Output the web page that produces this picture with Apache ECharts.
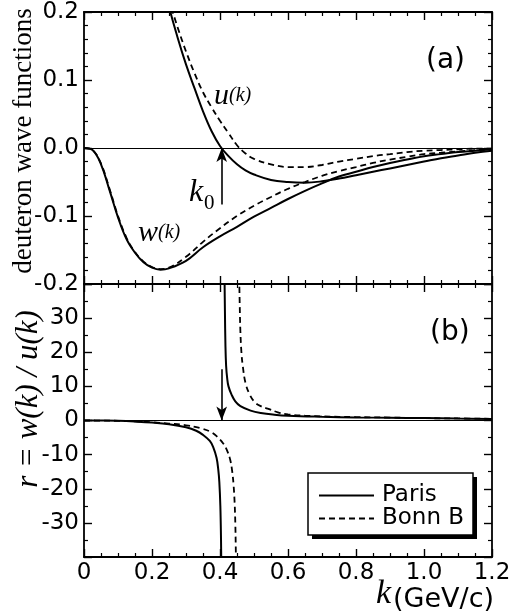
<!DOCTYPE html>
<html>
<head>
<meta charset="utf-8">
<script src="https://cdn.jsdelivr.net/npm/echarts@6/dist/echarts.min.js"></script>
<style>
html, body { margin: 0; padding: 0; background: #fff; }
#chart { width: 521px; height: 616px; }
</style>
</head>
<body>
<div id="chart"></div>
<script>
// momentum grids (GeV/c)
const kU = [0.2, 0.225, 0.25, 0.275, 0.3, 0.325, 0.35, 0.375, 0.4, 0.425, 0.45, 0.475, 0.5, 0.55, 0.6, 0.65, 0.7, 0.75, 0.8, 0.85, 0.9, 0.95, 1.0, 1.05, 1.1, 1.15, 1.2]
const kW = [0, 0.025, 0.05, 0.075, 0.1, 0.125, 0.15, 0.175, 0.2, 0.225, 0.25, 0.3, 0.35, 0.4, 0.45, 0.5, 0.55, 0.6, 0.65, 0.7, 0.75, 0.8, 0.85, 0.9, 0.95, 1.0, 1.05, 1.1, 1.15, 1.2]

// (a) S- and D-wave functions
const parisU = [0.34, 0.265, 0.208, 0.163, 0.123, 0.088, 0.054, 0.025, 0.003, -0.012, -0.024, -0.033, -0.039, -0.047, -0.050, -0.051, -0.049, -0.045, -0.040, -0.035, -0.030, -0.025, -0.020, -0.015, -0.011, -0.007, -0.004]
const bonnU = [0.32, 0.26, 0.218, 0.178, 0.142, 0.110, 0.082, 0.060, 0.040, 0.022, 0.004, -0.008, -0.016, -0.024, -0.028, -0.028, -0.025, -0.020, -0.016, -0.012, -0.009, -0.006, -0.004, -0.003, -0.002, -0.001, -0.001]
const parisW = [0, -0.003, -0.024, -0.062, -0.102, -0.134, -0.154, -0.168, -0.176, -0.179, -0.177, -0.166, -0.146, -0.130, -0.116, -0.101, -0.088, -0.075, -0.063, -0.052, -0.042, -0.035, -0.028, -0.022, -0.017, -0.012, -0.009, -0.006, -0.004, -0.002]
const bonnW = [0, -0.003, -0.023, -0.060, -0.100, -0.132, -0.153, -0.167, -0.175, -0.178, -0.176, -0.160, -0.138, -0.118, -0.100, -0.085, -0.072, -0.060, -0.050, -0.041, -0.034, -0.028, -0.022, -0.017, -0.013, -0.009, -0.007, -0.005, -0.003, -0.002]

// (b) ratio r = w/u, two branches around the node of u
const rParisNegK = [0, 0.05, 0.1, 0.15, 0.2, 0.25, 0.3, 0.33, 0.35, 0.37, 0.38, 0.39, 0.395, 0.398, 0.401, 0.403, 0.404]
const rParisNeg = [0, -0.02, -0.1, -0.3, -0.6, -1.1, -2.0, -3.0, -4.2, -6.0, -7.8, -11, -14.5, -18, -25, -35, -45]
const rParisPosK = [0.413, 0.4145, 0.416, 0.418, 0.421, 0.425, 0.434, 0.445, 0.46, 0.49, 0.52, 0.56, 0.6, 0.7, 0.8, 0.9, 1.0, 1.1, 1.2]
const rParisPos = [45, 32, 22, 16, 12.5, 10, 7.6, 5.6, 4.2, 2.9, 2.2, 1.7, 1.4, 1.1, 0.9, 0.8, 0.7, 0.55, 0.45]
const rBonnNegK = [0, 0.05, 0.1, 0.15, 0.2, 0.25, 0.3, 0.34, 0.37, 0.39, 0.41, 0.42, 0.43, 0.436, 0.44, 0.443, 0.445, 0.4465, 0.4475]
const rBonnNeg = [0, -0.02, -0.1, -0.25, -0.5, -0.9, -1.4, -2.2, -3.2, -4.6, -6.8, -8.6, -11.5, -15, -19, -24, -30, -38, -45]
const rBonnPosK = [0.456, 0.458, 0.46, 0.463, 0.467, 0.475, 0.488, 0.503, 0.52, 0.54, 0.57, 0.6, 0.65, 0.7, 0.8, 0.9, 1.0, 1.1, 1.2]
const rBonnPos = [45, 34, 26, 20, 16, 11, 7.5, 5.3, 4.2, 3.5, 2.4, 1.8, 1.4, 1.2, 1.0, 0.85, 0.7, 0.6, 0.5]

const k0 = 0.405

const zip = (xs, ys) => xs.map((x, i) => [x, ys[i]])

const SANS = 'DejaVu Sans'
const SERIF = 'Liberation Serif'
const solid = { color: '#000', width: 2, type: 'solid' }
const dashed = { color: '#000', width: 1.8, type: [6, 4] }

const chart = echarts.init(document.getElementById('chart'))

// 坐标轴公共样式
const minor = (n) => ({ show: true, splitNumber: n, length: 4, lineStyle: { color: '#000', width: 1.2 } })
const axisBase = (extra) => Object.assign({
  type: 'value',
  axisLine: { show: true, onZero: false, lineStyle: { color: '#000', width: 1.8 } },
  axisTick: { show: true, inside: true, length: 8, lineStyle: { color: '#000', width: 1.4 } },
  splitLine: { show: false },
  minorSplitLine: { show: false },
  axisLabel: { show: false }
}, extra)

const xLabel = { show: true, color: '#000', fontFamily: SANS, fontSize: 23, margin: 5,
  formatter: v => v === 0 ? '0' : v.toFixed(1) }

const xAxes = [
  axisBase({ gridIndex: 0, position: 'bottom', min: 0, max: 1.2, interval: 0.2, minorTick: minor(4) }),
  axisBase({ gridIndex: 0, position: 'top', min: 0, max: 1.2, interval: 0.2, minorTick: minor(4) }),
  axisBase({ gridIndex: 1, position: 'bottom', min: 0, max: 1.2, interval: 0.2, minorTick: minor(4), axisLabel: xLabel }),
  axisBase({ gridIndex: 1, position: 'top', min: 0, max: 1.2, interval: 0.2, minorTick: minor(4) })
]

const yAxes = [
  axisBase({ gridIndex: 0, position: 'left', min: -0.2, max: 0.2, interval: 0.1, minorTick: minor(5),
    axisLabel: { show: true, color: '#000', fontFamily: SANS, fontSize: 23, margin: 5, formatter: v => v.toFixed(1) } }),
  axisBase({ gridIndex: 0, position: 'right', min: -0.2, max: 0.2, interval: 0.1, minorTick: minor(5) }),
  axisBase({ gridIndex: 1, position: 'left', min: -40, max: 40, interval: 10, minorTick: minor(2),
    axisLabel: { show: true, color: '#000', fontFamily: SANS, fontSize: 23, margin: 5,
      formatter: v => Math.abs(v) === 40 ? '' : String(v) } }),
  axisBase({ gridIndex: 1, position: 'right', min: -40, max: 40, interval: 10, minorTick: minor(2) })
]

const line = (name, data, style, xi, yi, extra) => Object.assign({
  name, type: 'line', data, xAxisIndex: xi, yAxisIndex: yi,
  showSymbol: false, symbol: 'none', smooth: 0.4,
  lineStyle: style, itemStyle: { color: '#000' }, silent: true, clip: true
}, extra)

const zeroLine = {
  silent: true, symbol: 'none', label: { show: false },
  lineStyle: { color: '#000', width: 1.2, type: 'solid' },
  data: [{ yAxis: 0 }]
}

const arrowLine = (data) => ({
  silent: true, symbol: ['none', 'arrow'], symbolSize: [8, 14],
  label: { show: false }, lineStyle: { color: '#000', width: 1.6, type: 'solid' },
  data
})

const option = {
  animation: false,
  backgroundColor: '#fff',
  grid: [
    { left: 84, right: 29, top: 12, height: 272, outerBoundsMode: 'none' },
    { left: 84, right: 29, top: 284, height: 273, outerBoundsMode: 'none' }
  ],
  xAxis: xAxes,
  yAxis: yAxes,
  legend: {
    data: ['Paris', 'Bonn B'],
    orient: 'vertical', left: 308, top: 473, z: 10,
    itemWidth: 55, itemHeight: 14, itemGap: 0,
    padding: [11, 12, 11, 10],
    itemStyle: { opacity: 0 },
    selectedMode: false,
    textStyle: { color: '#000', fontFamily: SANS, fontSize: 23, lineHeight: 20, padding: [0, 0, 0, 3] }
  },
  series: [
    line('Paris', zip(kU, parisU), solid, 0, 0, { markLine: zeroLine }),
    line('Bonn B', zip(kU, bonnU), dashed, 0, 0, {
      markLine: arrowLine([[{ coord: [k0, -0.083] }, { coord: [k0, 0] }]])
    }),
    line('Paris', zip(kW, parisW), solid, 0, 0),
    line('Bonn B', zip(kW, bonnW), dashed, 0, 0),
    line('Paris', zip(rParisNegK, rParisNeg), solid, 2, 2, { markLine: zeroLine }),
    line('Paris', zip(rParisPosK, rParisPos), solid, 2, 2),
    line('Bonn B', zip(rBonnNegK, rBonnNeg), dashed, 2, 2, {
      markLine: arrowLine([[{ coord: [k0, 15] }, { coord: [k0, 0] }]])
    }),
    line('Bonn B', zip(rBonnPosK, rBonnPos), dashed, 2, 2)
  ],
  graphic: [
    // legend frame with a solid drop shadow
    { type: 'rect', z: 5, silent: true, shape: { x: 312, y: 477, width: 165, height: 62 }, style: { fill: '#000' } },
    { type: 'rect', z: 6, silent: true, shape: { x: 308, y: 473, width: 165, height: 62 }, style: { fill: '#fff', stroke: '#000', lineWidth: 1.5 } },
    { type: 'text', x: 24, y: 141, rotation: Math.PI / 2, silent: true,
      style: { text: 'deuteron wave functions', fontFamily: SERIF, fontSize: 27, fill: '#000', textAlign: 'center', textVerticalAlign: 'middle' } },
    { type: 'text', x: 29, y: 399, rotation: Math.PI / 2, silent: true,
      style: { text: 'r = w(k) / u(k)', fontFamily: SERIF, fontStyle: 'italic', fontSize: 31, fill: '#000', textAlign: 'center', textVerticalAlign: 'middle' } },
    { type: 'text', x: 426, y: 61, silent: true,
      style: { text: '(a)', fontFamily: SANS, fontSize: 28, fill: '#000', textAlign: 'left', textVerticalAlign: 'middle' } },
    { type: 'text', x: 430, y: 333, silent: true,
      style: { text: '(b)', fontFamily: SANS, fontSize: 28, fill: '#000', textAlign: 'left', textVerticalAlign: 'middle' } },
    { type: 'text', x: 214, y: 96, silent: true,
      style: { text: '{a|u}{b|(k)}', fill: '#000', textAlign: 'left', textVerticalAlign: 'middle',
        rich: { a: { fontFamily: SERIF, fontStyle: 'italic', fontSize: 30 }, b: { fontFamily: SERIF, fontStyle: 'italic', fontSize: 20 } } } },
    { type: 'text', x: 138, y: 233, silent: true,
      style: { text: '{a|w}{b|(k)}', fill: '#000', textAlign: 'left', textVerticalAlign: 'middle',
        rich: { a: { fontFamily: SERIF, fontStyle: 'italic', fontSize: 30 }, b: { fontFamily: SERIF, fontStyle: 'italic', fontSize: 20 } } } },
    { type: 'text', x: 189, y: 193, silent: true,
      style: { text: 'k', fontFamily: SERIF, fontStyle: 'italic', fontSize: 32, fill: '#000', textAlign: 'left', textVerticalAlign: 'middle' } },
    { type: 'text', x: 204, y: 203, silent: true,
      style: { text: '0', fontFamily: SERIF, fontSize: 21, fill: '#000', textAlign: 'left', textVerticalAlign: 'middle' } },
    { type: 'text', x: 376, y: 594, silent: true,
      style: { text: 'k', fontFamily: SERIF, fontStyle: 'italic', fontSize: 34, fill: '#000', textAlign: 'left', textVerticalAlign: 'middle' } },
    { type: 'text', x: 393, y: 600, silent: true,
      style: { text: '(GeV/c)', fontFamily: SANS, fontSize: 27, fill: '#000', textAlign: 'left', textVerticalAlign: 'middle' } }
  ]
}

chart.setOption(option)
</script>
</body>
</html>
